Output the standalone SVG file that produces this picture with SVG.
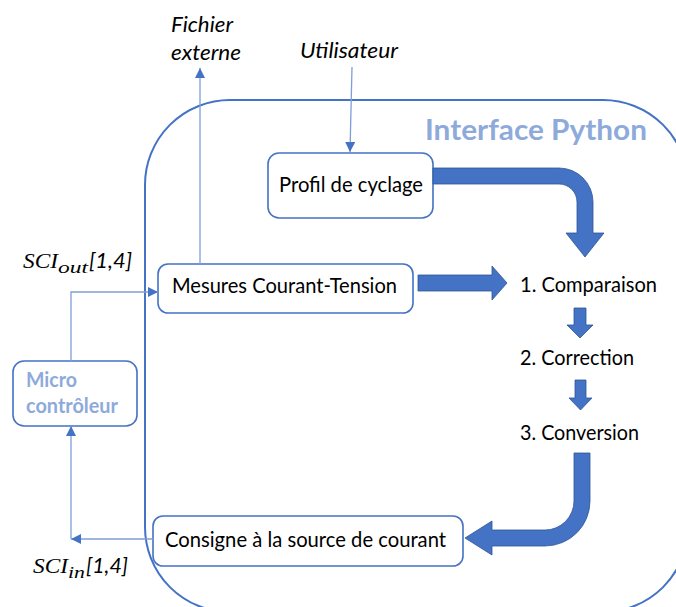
<svg xmlns="http://www.w3.org/2000/svg" width="676" height="607" viewBox="0 0 676 607">
  <style>
    .box { fill: #ffffff; stroke: #4472C4; stroke-width: 1.6; }
    .frame { fill: none; stroke: #4472C4; stroke-width: 2; }
    .txt { font-family: Lato, "Liberation Sans", sans-serif; font-size: 21px; fill: #000000; }
    .ital { font-family: Lato, "Liberation Sans", sans-serif; font-size: 21px; font-style: italic; fill: #000000; }
    .title { font-family: Lato, "Liberation Sans", sans-serif; font-size: 28px; font-weight: bold; fill: #8EAADB; }
    .micro { font-family: Lato, "Liberation Sans", sans-serif; font-size: 21px; font-weight: bold; fill: #8EAADB; }
    .math { font-family: "Liberation Serif", serif; font-style: italic; fill: #000000; }
    .wire { fill: none; stroke: #7F9ED8; stroke-width: 1.3; }
    .block { fill: #4472C4; stroke: #2F5597; stroke-width: 0.8; }
  </style>
  <defs>
    <marker id="tip" viewBox="0 0 10 10" refX="10" refY="5" markerWidth="11" markerHeight="10" markerUnits="userSpaceOnUse" orient="auto">
      <path d="M0,0 L10,5 L0,10 Z" fill="#4472C4"/>
    </marker>
  </defs>

  <!-- Python interface frame -->
  <g id="interface-python">
    <rect class="frame" x="145" y="100" width="543" height="512" rx="85" ry="85"/>
    <text class="title" x="425" y="140" textLength="222" lengthAdjust="spacingAndGlyphs">Interface Python</text>
  </g>

  <!-- external labels -->
  <g id="fichier-externe">
    <text class="ital" x="171" y="32" textLength="62" lengthAdjust="spacingAndGlyphs">Fichier</text>
    <text class="ital" x="171" y="60" textLength="70" lengthAdjust="spacingAndGlyphs">externe</text>
  </g>
  <g id="utilisateur">
    <text class="ital" x="300" y="58" textLength="98" lengthAdjust="spacingAndGlyphs">Utilisateur</text>
  </g>

  <!-- nodes -->
  <g id="profil-cyclage">
    <rect class="box" x="268" y="153" width="165" height="65" rx="11"/>
    <text class="txt" x="279" y="192" textLength="144" lengthAdjust="spacingAndGlyphs">Profil de cyclage</text>
  </g>
  <g id="mesures">
    <rect class="box" x="158" y="264" width="255" height="49" rx="10"/>
    <text class="txt" x="172" y="293" textLength="225" lengthAdjust="spacingAndGlyphs">Mesures Courant-Tension</text>
  </g>
  <g id="consigne">
    <rect class="box" x="153" y="516" width="310" height="50" rx="10"/>
    <text class="txt" x="165" y="547" textLength="281" lengthAdjust="spacingAndGlyphs">Consigne à la source de courant</text>
  </g>
  <g id="microcontroleur">
    <rect class="box" x="13" y="361" width="124" height="65" rx="11"/>
    <text class="micro" x="26" y="387" textLength="51" lengthAdjust="spacingAndGlyphs">Micro</text>
    <text class="micro" x="26" y="413" textLength="92" lengthAdjust="spacingAndGlyphs">contrôleur</text>
  </g>
  <g id="comparaison">
    <text class="txt" x="520" y="292" textLength="137" lengthAdjust="spacingAndGlyphs">1. Comparaison</text>
  </g>
  <g id="correction">
    <text class="txt" x="520" y="365" textLength="114" lengthAdjust="spacingAndGlyphs">2. Correction</text>
  </g>
  <g id="conversion">
    <text class="txt" x="520" y="440" textLength="119" lengthAdjust="spacingAndGlyphs">3. Conversion</text>
  </g>

  <!-- serial link labels -->
  <g id="sci-out">
    <text class="math" font-size="22" x="23" y="268" textLength="35" lengthAdjust="spacingAndGlyphs">SCI</text>
    <text class="math" font-size="17" x="58" y="273" textLength="30" lengthAdjust="spacingAndGlyphs">out</text>
    <text class="ital" x="89" y="268" textLength="43" lengthAdjust="spacingAndGlyphs">[1,4]</text>
  </g>
  <g id="sci-in">
    <text class="math" font-size="22" x="33" y="573" textLength="35" lengthAdjust="spacingAndGlyphs">SCI</text>
    <text class="math" font-size="17" x="68" y="578" textLength="17" lengthAdjust="spacingAndGlyphs">in</text>
    <text class="ital" x="86" y="573" textLength="42" lengthAdjust="spacingAndGlyphs">[1,4]</text>
  </g>

  <!-- connectors -->
  <g id="connectors">
    <line class="wire" x1="200" y1="264" x2="200" y2="68" marker-end="url(#tip)"/>
    <line class="wire" x1="352" y1="67" x2="350" y2="152" marker-end="url(#tip)"/>
    <polyline class="wire" points="71,361 71,292 158,292" marker-end="url(#tip)"/>
    <line class="wire" x1="153" y1="539" x2="71" y2="539" marker-end="url(#tip)"/>
    <line class="wire" x1="71" y1="539" x2="71" y2="426" marker-end="url(#tip)"/>

    <!-- block arrows of the processing chain -->
    <path class="block" d="M433,168 H559 A34,34 0 0 1 593,202 V233 H604 L585,257 L566,233 H577 V202 A18,18 0 0 0 559,184 H433 Z"/>
    <path class="block" d="M418,275 H492 V266 L507,283 L492,300 V291 H418 Z"/>
    <path class="block" d="M574,308 H586 V325 H593 L580,338 L567,325 H574 Z"/>
    <path class="block" d="M575,380 H586 V398 H592 L580.5,410 L569,398 H575 Z"/>
    <path class="block" d="M574,453 H590 V501 A45,45 0 0 1 545,546 H492 V555 L465,538 L492,521 V530 H545 A29,29 0 0 0 574,501 Z"/>
  </g>
</svg>
